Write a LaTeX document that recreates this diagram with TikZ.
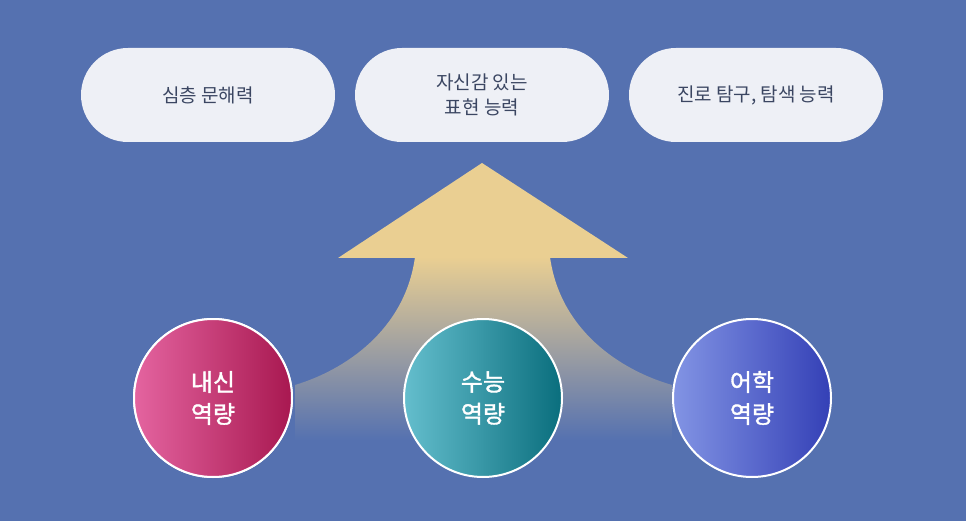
\documentclass[tikz,border=0pt]{standalone}
\usepackage{fontspec}
\newfontfamily\kr{Noto Sans CJK KR}
\newfontfamily\krb{Noto Sans CJK KR}[FakeBold=1.5]
\definecolor{bg}{HTML}{5571B0}
\definecolor{pill}{HTML}{EEF0F6}
\definecolor{ptxt}{HTML}{3B4662}
\definecolor{arr}{HTML}{EACF92}
\tikzset{
 pillbox/.style={rounded rectangle, fill=pill, minimum width=254pt, minimum height=94pt, text=ptxt, font=\kr\fontsize{19}{25}\selectfont, align=center, inner sep=0pt},
 circ/.style={circle, draw=white, line width=2pt, minimum size=158pt, text=white, font=\krb\fontsize{24}{32}\selectfont, align=center, inner sep=0pt},
}
\usetikzlibrary{shapes.misc}
\begin{document}
\begin{tikzpicture}[x=1pt,y=-1pt]
\fill[bg] (0,0) rectangle (966,521);
\useasboundingbox (0,0) rectangle (966,521);
\node[pillbox] (p1) at (208,95) {심층 문해력};
\node[pillbox] (p2) at (482,95) {자신감 있는\\표현 능력};
\node[pillbox] (p3) at (756,95) {진로 탐구, 탐색 능력};
% arrow
\fill[arr] (482,163) -- (628,258) -- (338,258) -- cycle;
\shade[top color=arr, middle color=arr!55!bg, bottom color=bg]
 (415,257) -- (550,257) .. controls (560,330) and (620,370) .. (672,385) -- (672,440) -- (295,440) -- (295,385) .. controls (345,370) and (405,330) .. (415,257) -- cycle;
\node[circ, left color=magenta!45!red!60!white!85!magenta, right color=purple, shading angle=135] (c1) at (213,398) {};
\shade[shading angle=135, left color={rgb,255:red,228;green,100;blue,160}, right color={rgb,255:red,168;green,24;blue,80}] (213,398) circle (79pt);
\node[circ] (c1) at (213,398) {내신\\역량};
\shade[shading angle=135, left color={rgb,255:red,100;green,190;blue,205}, right color={rgb,255:red,10;green,110;blue,125}] (483,398) circle (79pt);
\node[circ] (c2) at (483,398) {수능\\역량};
\shade[shading angle=135, left color={rgb,255:red,130;green,148;blue,228}, right color={rgb,255:red,52;green,64;blue,182}] (752,398) circle (79pt);
\node[circ] (c3) at (752,398) {어학\\역량};
\end{tikzpicture}
\end{document}
